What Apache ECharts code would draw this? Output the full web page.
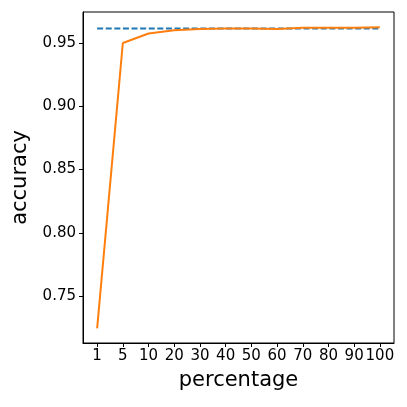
<!DOCTYPE html>
<html>
<head>
<meta charset="utf-8">
<script src="https://cdn.jsdelivr.net/npm/echarts@6/dist/echarts.min.js"></script>
<style>
  html, body { margin: 0; padding: 0; background: #fff; }
  #chart { width: 407px; height: 407px; }
</style>
</head>
<body>
<div id="chart"></div>
<script>
const percentages = ['1', '5', '10', '20', '30', '40', '50', '60', '70', '80', '90', '100']
const accuracy = [0.7245, 0.950, 0.9575, 0.960, 0.961, 0.9615, 0.9615, 0.961, 0.962, 0.962, 0.962, 0.9625]
const baseline = [0.9615, 0.9615, 0.9615, 0.9615, 0.9615, 0.9615, 0.9615, 0.9615, 0.9615, 0.9615, 0.9615, 0.9615]
const yTicks = [0.75, 0.80, 0.85, 0.90, 0.95]

const font = 'DejaVu Sans'
const chart = echarts.init(document.getElementById('chart'), null, { renderer: 'canvas' })

const xIdx = percentages.map((_, i) => i)

const option = {
  backgroundColor: '#fff',
  animation: false,
  grid: { left: 83, right: 13, top: 12, bottom: 64, show: true, borderColor: '#000', borderWidth: 1 },
  xAxis: {
    type: 'value',
    min: -0.55,
    max: 11.55,
    name: 'percentage',
    nameLocation: 'middle',
    nameGap: 27,
    nameTextStyle: { fontFamily: font, fontSize: 21, color: '#000' },
    axisLine: { show: true, onZero: false, lineStyle: { color: '#000', width: 1 } },
    axisTick: { show: true, inside: false, length: 4, customValues: xIdx, lineStyle: { color: '#000' } },
    axisLabel: {
      customValues: xIdx,
      fontFamily: font, fontSize: 15, color: '#000', margin: 6,
      formatter: v => percentages[Math.round(v)]
    },
    splitLine: { show: false }
  },
  yAxis: {
    type: 'value',
    min: 0.713,
    max: 0.9745,
    name: 'accuracy',
    nameLocation: 'middle',
    nameGap: 52,
    nameTextStyle: { fontFamily: font, fontSize: 21, color: '#000' },
    axisLine: { show: true, onZero: false, lineStyle: { color: '#000', width: 1 } },
    axisTick: { show: true, inside: false, length: 4, customValues: yTicks, lineStyle: { color: '#000' } },
    axisLabel: {
      customValues: yTicks,
      fontFamily: font, fontSize: 15, color: '#000', margin: 7,
      formatter: v => v.toFixed(2)
    },
    splitLine: { show: false }
  },
  series: [
    {
      name: 'baseline',
      type: 'line',
      data: baseline.map((v, i) => [i, v]),
      symbol: 'none',
      lineStyle: { color: '#1f77b4', width: 2, type: [6, 2.6] },
      z: 2
    },
    {
      name: 'accuracy',
      type: 'line',
      data: accuracy.map((v, i) => [i, v]),
      symbol: 'none',
      lineStyle: { color: '#ff7f0e', width: 2 },
      z: 3
    }
  ]
}

chart.setOption(option)
</script>
</body>
</html>
